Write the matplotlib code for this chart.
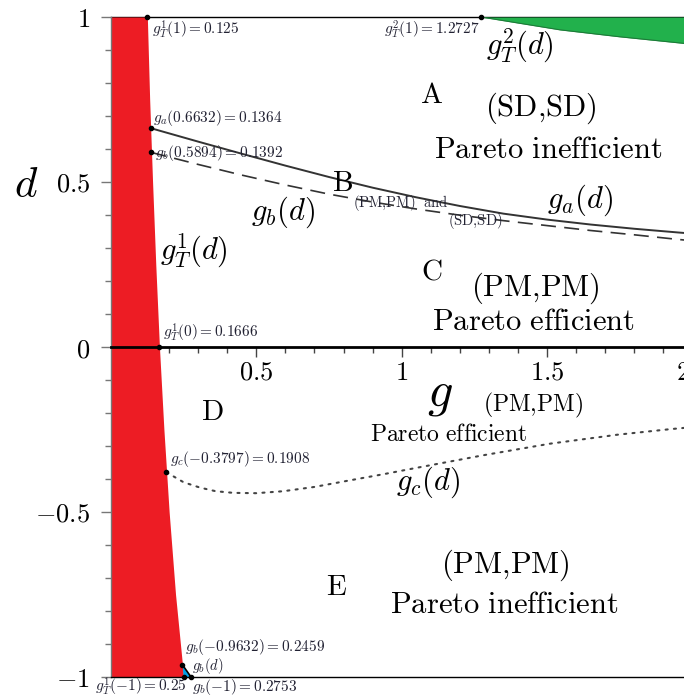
import matplotlib
matplotlib.use("Agg")
import matplotlib.pyplot as plt
import matplotlib.transforms as mtransforms
import numpy as np

plt.rcParams['mathtext.fontset'] = 'cm'
plt.rcParams['font.family'] = ['DejaVu Serif']

# ---- data ----
# g_T^1(d): red region boundary (red between g=0 and this curve)
gT1_d = [1.0, 0.75, 0.5, 0.25, 0.0, -0.25, -0.5, -0.75, -1.0]
gT1_g = [0.125, 0.133, 0.143, 0.154, 0.1666, 0.182, 0.200, 0.222, 0.250]

# g_T^2(d): green region boundary (green between this curve and d=1)
gT2_g = [1.2727, 1.545, 1.75, 1.971, 2.05]
gT2_d = [1.0, 0.961, 0.940, 0.920, 0.913]

# g_a(d): solid curve
ga_g = [0.1364, 0.30, 0.45, 0.60, 0.75, 0.90, 1.05, 1.20, 1.35, 1.50, 1.65, 1.80, 1.95, 2.05]
ga_d = [0.6632, 0.6223, 0.5856, 0.5496, 0.5151, 0.4828, 0.4536, 0.4273, 0.4041,
        0.3861, 0.3711, 0.3583, 0.3471, 0.3401]

# g_b(d): dashed curve
gb_g = [0.1392, 0.30, 0.45, 0.60, 0.75, 0.90, 1.05, 1.20, 1.35, 1.50, 1.65, 1.80, 1.95, 2.05]
gb_d = [0.5894, 0.5532, 0.5209, 0.4909, 0.4632, 0.4392, 0.4182, 0.3994, 0.3829,
        0.3679, 0.3530, 0.3400, 0.3260, 0.3180]

# g_c(d): dotted curve
gc_g = [0.1908, 0.25, 0.306, 0.36, 0.421, 0.50, 0.593, 0.70, 0.822, 0.94, 1.052,
        1.281, 1.510, 1.740, 1.923, 2.05]
gc_d = [-0.3797, -0.410, -0.426, -0.437, -0.442, -0.443, -0.437, -0.424, -0.404,
        -0.385, -0.366, -0.328, -0.293, -0.266, -0.249, -0.239]

# small blue region near d=-1 (bounded by g_T^1 and g_b)
blue_g = [0.2459, 0.25, 0.2753]
blue_d = [-0.9632, -1.0, -1.0]

# marked points
pts_g = [0.125, 1.2727, 0.1364, 0.1392, 0.1666, 0.1908, 0.2459, 0.25, 0.2753]
pts_d = [1.0, 1.0, 0.6632, 0.5894, 0.0, -0.3797, -0.9632, -1.0, -1.0]

xticks = [0.5, 1.0, 1.5, 2.0]
xtick_labels = ['$0.5$', '$1$', '$1.5$', '$2$']
yticks = [-1.0, -0.5, 0.0, 0.5, 1.0]
ytick_labels = ['$-1$', '$-0.5$', '$0$', '$0.5$', '$1$']

RED = '#ED1C24'
GREEN = '#22B14C'
BLUE = '#00A2E8'
XMAX = 2.05

W, H = 684, 699
fig = plt.figure(figsize=(W / 100, H / 100), dpi=100)
ax = fig.add_axes([111 / W, 22 / H, XMAX * 290.7 / W, 660 / H])
ax.set_xlim(0, XMAX)
ax.set_ylim(-1, 1)

# boundary line at d = 1
ax.plot([0, XMAX], [1, 1], color='black', lw=1.0, zorder=1, clip_on=False)

# red region
ax.fill_betweenx(gT1_d, 0, gT1_g, color=RED, lw=0, zorder=2)
# green region
ax.fill_between(gT2_g, gT2_d, 1, color=GREEN, lw=0, zorder=2)
ax.plot(gT2_g, gT2_d, color='#1d7a38', lw=0.8, zorder=2)
# blue region
ax.fill(blue_g, blue_d, color=BLUE, lw=0, zorder=3)
ax.plot([blue_g[0], blue_g[2]], [blue_d[0], blue_d[2]], color='black', lw=1.2, zorder=4)

# boundary line at d = -1
ax.plot([0, XMAX], [-1, -1], color='black', lw=1.0, zorder=3, clip_on=False)

# curves
ax.plot(ga_g, ga_d, color='#333333', lw=1.4, zorder=4)
ax.plot(gb_g, gb_d, color='#333333', lw=1.2, ls=(0, (9, 5)), zorder=4)
ax.plot(gc_g, gc_d, color='#444444', lw=1.5, ls=(0, (1, 3)), dash_capstyle='round', zorder=4)

# points
ax.plot(pts_g, pts_d, 'o', color='black', ms=3, zorder=6, clip_on=False)

# spines / ticks
ax.spines['right'].set_visible(False)
ax.spines['top'].set_visible(False)
ax.spines['bottom'].set_position(('data', 0))
ax.spines['bottom'].set_linewidth(2.0)
ax.spines['bottom'].set_zorder(5)
ax.spines['left'].set_color('#777777')
ax.spines['left'].set_linewidth(1.0)

ax.set_xticks(xticks)
ax.set_xticklabels(xtick_labels)
ax.set_xticks(np.arange(1, 21) / 10, minor=True)
ax.set_yticks(yticks)
ax.set_yticklabels(ytick_labels)
ax.set_yticks(np.arange(-10, 11) / 10, minor=True)
ax.tick_params(axis='x', which='major', direction='out', length=7, width=1, pad=2,
               labelsize=19, color='#444444')
ax.tick_params(axis='x', which='minor', direction='out', length=4, width=1, color='#444444')
ax.tick_params(axis='y', which='major', direction='out', length=7, width=1, pad=8,
               labelsize=19, color='#777777')
ax.tick_params(axis='y', which='minor', direction='out', length=4, width=1, color='#777777')

# shift the last x tick label slightly left so it peeks in at the edge
last = ax.get_xticklabels()[-1]
last.set_transform(last.get_transform() +
                   mtransforms.ScaledTranslation(-9 / 100, 0, fig.dpi_scale_trans))

# axis labels
ax.text(-0.292, 0.49, '$d$', fontsize=31, ha='center', va='center', clip_on=False)
ax.text(1.132, -0.14, '$g$', fontsize=36, ha='center', va='center', clip_on=False)

SMALL = 11
SC = '#222233'

def t(x, y, s, fs=21, ha='center', va='center', color='black'):
    ax.text(x, y, s, fontsize=fs, ha=ha, va=va, color=color, zorder=7, clip_on=False)

# small annotations
t(0.141, 0.962, r'$g_T^1(1) = 0.125$', SMALL, ha='left', color=SC)
t(1.269, 0.962, r'$g_T^2(1) = 1.2727$', SMALL, ha='right', color=SC)
t(0.144, 0.694, r'$g_a(0.6632) = 0.1364$', SMALL, ha='left', color=SC)
t(0.151, 0.588, r'$g_b(0.5894) = 0.1392$', SMALL, ha='left', color=SC)
t(0.179, 0.042, r'$g_T^1(0) = 0.1666$', SMALL, ha='left', color=SC)
t(0.203, -0.339, r'$g_c(-0.3797) = 0.1908$', SMALL, ha='left', color=SC)
t(0.255, -0.910, r'$g_b(-0.9632) = 0.2459$', SMALL, ha='left', color=SC)
t(0.279, -0.968, r'$g_b(d)$', 10.5, ha='left', color=SC)
t(-0.055, -1.03, r'$g_T^1(-1) = 0.25$', SMALL, ha='left', color=SC)
t(0.279, -1.03, r'$g_b(-1) = 0.2753$', SMALL, ha='left', color=SC)
t(0.833, 0.436, r'$\mathrm{(PM{,}PM)\ \ and}$', 10.5, ha='left', color=SC)
t(1.159, 0.382, r'$\mathrm{(SD{,}SD)}$', 10.5, ha='left', color=SC)

# curve labels
t(1.407, 0.912, r'$g_T^2(d)$', 22)
t(0.286, 0.291, r'$g_T^1(d)$', 22)
t(0.592, 0.409, r'$g_b(d)$', 22)
t(1.613, 0.445, r'$g_a(d)$', 22)
t(1.091, -0.409, r'$g_c(d)$', 22)

# region letters
t(1.104, 0.764, r'$\mathrm{A}$', 21)
t(0.795, 0.497, r'$\mathrm{B}$', 21)
t(1.104, 0.230, r'$\mathrm{C}$', 21)
t(0.347, -0.197, r'$\mathrm{D}$', 21)
t(0.777, -0.727, r'$\mathrm{E}$', 21)

# region descriptions
t(1.479, 0.724, r'$\mathrm{(SD{,}SD)}$', 22)
t(1.503, 0.597, r'$\mathrm{Pareto\ inefficient}$', 22)
t(1.459, 0.179, r'$\mathrm{(PM{,}PM)}$', 22)
t(1.452, 0.076, r'$\mathrm{Pareto\ efficient}$', 22)
t(1.452, -0.176, r'$\mathrm{(PM{,}PM)}$', 17)
t(1.163, -0.264, r'$\mathrm{Pareto\ efficient}$', 17)
t(1.355, -0.661, r'$\mathrm{(PM{,}PM)}$', 22)
t(1.352, -0.779, r'$\mathrm{Pareto\ inefficient}$', 22)

fig.savefig('out.png', dpi=100)
